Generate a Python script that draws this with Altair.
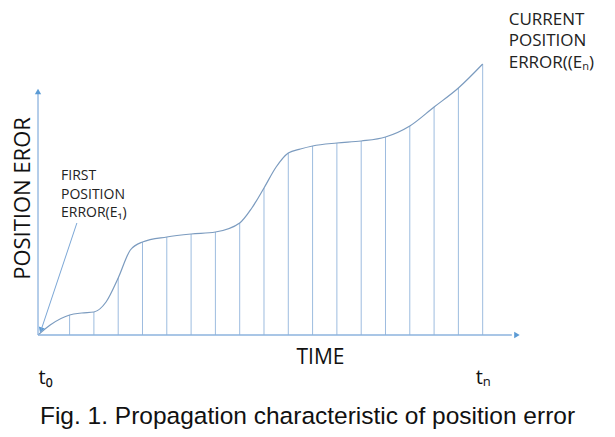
import altair as alt
import pandas as pd

# ---- data ----
t_curve = [0, 0.5, 1.3, 1.8, 2.3, 2.8, 3.3, 3.8, 4.3, 5.3, 6.3, 7.3, 8.3, 8.8, 9.3, 9.8, 10.3, 10.8, 11.3, 12.3, 13.3, 14.3, 15.3, 16.3, 17.3, 18.3]
v_curve = [0, 10, 20, 22, 23, 33, 57, 85, 93, 98, 101, 103, 112, 127, 147, 168, 182, 186, 189, 192, 194, 198, 209, 228, 247, 271]

t_bars = [1.3, 2.3, 3.3, 4.3, 5.3, 6.3, 7.3, 8.3, 9.3, 10.3, 11.3, 12.3, 13.3, 14.3, 15.3, 16.3, 17.3, 18.3]
v_bars = [20, 23, 57, 93, 98, 101, 103, 112, 147, 182, 189, 192, 194, 198, 209, 228, 247, 271]

tick_values = [0, 18.3]
tick_labels = ["t₀", "tₙ"]

x_title = "TIME"
y_title = "POSITION EROR"
caption = "Fig. 1. Propagation characteristic of position error"

first_label = "FIRST\nPOSITION\nERROR(E₁)"
current_label = "CURRENT\nPOSITION\nERROR((Eₙ)"

# axis arrows (data units)
axis_t = [0, 0]
axis_v = [0, 0]
axis_t2 = [0, 19.5]
axis_v2 = [241, 0]

head_t = [0, 19.71, 0.12]
head_v = [243.5, 0, 5]
head_angle = [0, 90, 199]

# leader line for first error label
lead_t = [1.6]
lead_v = [112]
lead_t2 = [0.1]
lead_v2 = [3]

# ---- frames ----
curve_df = pd.DataFrame({"t": t_curve, "v": v_curve})
bars_df = pd.DataFrame({"t": t_bars, "v": v_bars, "v0": [0] * len(t_bars)})
axis_df = pd.DataFrame({"t": axis_t, "v": axis_v, "t2": axis_t2, "v2": axis_v2})
head_df = pd.DataFrame({"t": head_t, "v": head_v, "angle": head_angle})
lead_df = pd.DataFrame({"t": lead_t, "v": lead_v, "t2": lead_t2, "v2": lead_v2})
first_df = pd.DataFrame({"t": [t_curve[0]], "v": [v_curve[0]], "label": [first_label]})
cur_df = pd.DataFrame({"t": [t_curve[-1]], "v": [v_curve[-1]], "label": [current_label]})

label_expr = "datum.value == {} ? '{}' : '{}'".format(tick_values[0], tick_labels[0], tick_labels[1])

x_scale = alt.Scale(domain=[-1.235, 23.416], nice=False, zero=False)
y_scale = alt.Scale(domain=[-94, 327], nice=False, zero=False)

x_axis = alt.Axis(
    title=x_title, values=tick_values, labelExpr=label_expr,
    domain=False, ticks=False, grid=False, offset=-94,
    labelPadding=48, labelBaseline="alphabetic", labelFontSize=20,
    labelFont="Open Sans", labelColor="#111111",
    labelAlign={"condition": {"test": "datum.value == 0", "value": "left"}, "value": "center"},
    labelFlush=False, labelOverlap=False,
    titleX=312, titleY=28, titleBaseline="alphabetic", titleAlign="center",
    titleFontSize=21, titleFontWeight="normal", titleFont="Open Sans", titleColor="#111111",
)
y_axis = alt.Axis(
    title=y_title, labels=False, domain=False, ticks=False, grid=False,
    titleAngle=270, titleX=21, titleY=190, titleAlign="center", titleBaseline="alphabetic",
    titleFontSize=22, titleFont="Open Sans", titleFontWeight="normal", titleColor="#111111",
)

X = alt.X("t:Q", scale=x_scale, axis=x_axis)
Y = alt.Y("v:Q", scale=y_scale, axis=y_axis)

bars = alt.Chart(bars_df).mark_rule(color="#9dbcdf", strokeWidth=1).encode(
    x=X, y=alt.Y("v0:Q", scale=y_scale, axis=y_axis), y2="v:Q"
)

curve = alt.Chart(curve_df).mark_line(interpolate="monotone", color="#7b9bbf", strokeWidth=1.2).encode(
    x=X, y=Y
)

axes_lines = alt.Chart(axis_df).mark_rule(color="#8db3de", strokeWidth=1.3).encode(
    x=X, y=Y, x2="t2:Q", y2="v2:Q"
)

heads = alt.Chart(head_df).mark_point(shape="triangle-up", filled=True, opacity=1, size=40, color="#5b9bd5").encode(
    x=X, y=Y, angle=alt.Angle("angle:Q", scale=None)
)

lead = alt.Chart(lead_df).mark_rule(color="#7aa6d6", strokeWidth=1).encode(
    x=X, y=Y, x2="t2:Q", y2="v2:Q"
)

first_txt = alt.Chart(first_df).mark_text(
    align="left", baseline="alphabetic", dx=23, dy=-155, fontSize=14,
    font="Open Sans", color="#222222", lineBreak="\n", lineHeight=18.5
).encode(x=X, y=Y, text="label:N")

cur_txt = alt.Chart(cur_df).mark_text(
    align="left", baseline="alphabetic", dx=26, dy=-39, fontSize=17,
    font="Open Sans", color="#222222", lineBreak="\n", lineHeight=21.3
).encode(x=X, y=Y, text="label:N")

chart = alt.layer(bars, curve, axes_lines, heads, lead, first_txt, cur_txt).properties(
    width=599, height=421,
    autosize=alt.AutoSizeParams(type="none"),
    padding=0,
    title=alt.TitleParams(
        text=caption, orient="bottom", anchor="middle", fontSize=24.5,
        font="Liberation Sans", fontWeight="normal", color="#111111",
        baseline="alphabetic", offset=-5,
    ),
).configure_view(strokeWidth=0)

chart.save("out.html", embed_options={"renderer": "svg", "actions": False})
